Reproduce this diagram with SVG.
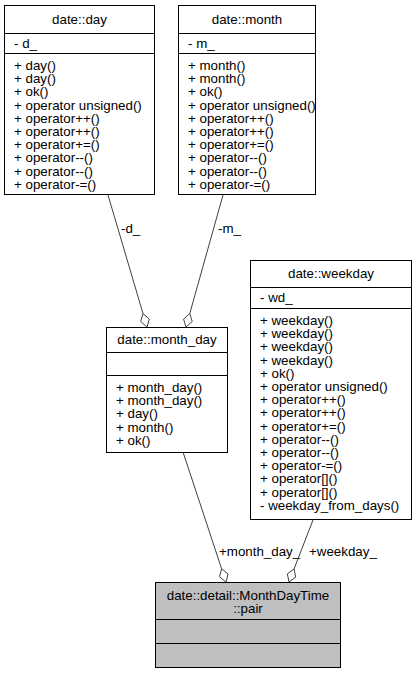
<svg xmlns="http://www.w3.org/2000/svg" width="416" height="673" viewBox="0 0 416 673">
<style>
text{font-family:"Liberation Sans",Arial,Helvetica,sans-serif;font-size:13.33px;fill:#000}
.c{text-anchor:middle}
.box{fill:#fff;stroke:#000;stroke-width:1}
.hl{fill:#bfbfbf;stroke:#000;stroke-width:1}
.sep{stroke:#000;stroke-width:1}
.edge{fill:none;stroke:#404040;stroke-width:1}
.dia{fill:#fff;stroke:#404040;stroke-width:1}
</style>
<rect width="416" height="673" fill="#fff"/>
<g id="connectors">
<path class="edge" d="M108,195 L143.03,313.57"/>
<polygon class="dia" points="147,327 149.33,319.01 143.03,313.57 140.70,321.56"/>
<text x="121" y="233">-d_</text>
<path class="edge" d="M223,195 L189.78,313.52"/>
<polygon class="dia" points="186,327 192.22,321.47 189.78,313.52 183.56,319.05"/>
<text x="218" y="233">-m_</text>
<path class="edge" d="M183,452 L221.60,568.71"/>
<polygon class="dia" points="226,582 228.07,573.94 221.60,568.71 219.53,576.76"/>
<text x="219" y="556">+month_day_</text>
<path class="edge" d="M313,520 L294.05,568.94"/>
<polygon class="dia" points="289,582 295.73,577.10 294.05,568.94 287.33,573.85"/>
<text x="309" y="556">+weekday_</text>
</g>
<g id="node_day">
<rect class="box" x="4.5" y="5.5" width="150" height="189"/>
<line class="sep" x1="4.5" y1="33.5" x2="154.5" y2="33.5"/>
<line class="sep" x1="4.5" y1="53.5" x2="154.5" y2="53.5"/>
<text class="c" x="79.5" y="24">date::day</text>
<text x="14" y="48">- d_</text>
<text x="14" y="70">+ day()</text>
<text x="14" y="83.2">+ day()</text>
<text x="14" y="96.4">+ ok()</text>
<text x="14" y="109.6">+ operator unsigned()</text>
<text x="14" y="122.8">+ operator++()</text>
<text x="14" y="136">+ operator++()</text>
<text x="14" y="149.2">+ operator+=()</text>
<text x="14" y="162.4">+ operator--()</text>
<text x="14" y="175.6">+ operator--()</text>
<text x="14" y="188.8">+ operator-=()</text>
</g>
<g id="node_month">
<rect class="box" x="178.5" y="5.5" width="137" height="189"/>
<line class="sep" x1="178.5" y1="33.5" x2="315.5" y2="33.5"/>
<line class="sep" x1="178.5" y1="53.5" x2="315.5" y2="53.5"/>
<text class="c" x="247" y="24">date::month</text>
<text x="188" y="48">- m_</text>
<text x="188" y="70">+ month()</text>
<text x="188" y="83.2">+ month()</text>
<text x="188" y="96.4">+ ok()</text>
<text x="188" y="109.6">+ operator unsigned()</text>
<text x="188" y="122.8">+ operator++()</text>
<text x="188" y="136">+ operator++()</text>
<text x="188" y="149.2">+ operator+=()</text>
<text x="188" y="162.4">+ operator--()</text>
<text x="188" y="175.6">+ operator--()</text>
<text x="188" y="188.8">+ operator-=()</text>
</g>
<g id="node_weekday">
<rect class="box" x="250.5" y="260.5" width="161" height="259"/>
<line class="sep" x1="250.5" y1="287.5" x2="411.5" y2="287.5"/>
<line class="sep" x1="250.5" y1="308.5" x2="411.5" y2="308.5"/>
<text class="c" x="331" y="278">date::weekday</text>
<text x="260" y="301.5">- wd_</text>
<text x="260" y="325">+ weekday()</text>
<text x="260" y="338.2">+ weekday()</text>
<text x="260" y="351.4">+ weekday()</text>
<text x="260" y="364.6">+ weekday()</text>
<text x="260" y="377.8">+ ok()</text>
<text x="260" y="391">+ operator unsigned()</text>
<text x="260" y="404.2">+ operator++()</text>
<text x="260" y="417.4">+ operator++()</text>
<text x="260" y="430.6">+ operator+=()</text>
<text x="260" y="443.8">+ operator--()</text>
<text x="260" y="457">+ operator--()</text>
<text x="260" y="470.2">+ operator-=()</text>
<text x="260" y="483.4">+ operator[]()</text>
<text x="260" y="496.6">+ operator[]()</text>
<text x="260" y="509.8">- weekday_from_days()</text>
</g>
<g id="node_month_day">
<rect class="box" x="106.5" y="327.5" width="121" height="125"/>
<line class="sep" x1="106.5" y1="352.5" x2="227.5" y2="352.5"/>
<line class="sep" x1="106.5" y1="375.5" x2="227.5" y2="375.5"/>
<text class="c" x="167" y="344">date::month_day</text>
<text x="116" y="392">+ month_day()</text>
<text x="116" y="405.2">+ month_day()</text>
<text x="116" y="418.4">+ day()</text>
<text x="116" y="431.6">+ month()</text>
<text x="116" y="444.8">+ ok()</text>
</g>
<g id="node_pair">
<rect class="hl" x="155.5" y="582.5" width="185" height="85"/>
<line class="sep" x1="155.5" y1="619.5" x2="340.5" y2="619.5"/>
<line class="sep" x1="155.5" y1="643.5" x2="340.5" y2="643.5"/>
<text class="c" x="248" y="600">date::detail::MonthDayTime</text>
<text class="c" x="248" y="613">::pair</text>
</g>
</svg>
